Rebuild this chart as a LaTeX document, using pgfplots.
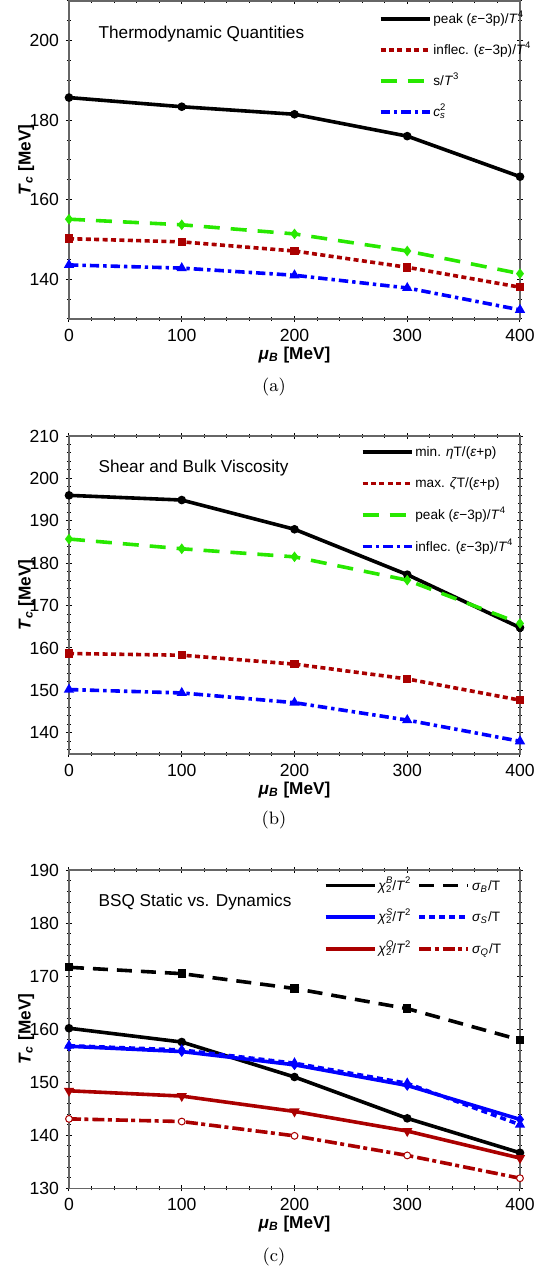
\documentclass[border=0pt]{standalone}
\usepackage{fontspec}
\setsansfont{Liberation Sans}
\usepackage{pgfplots}
\pgfplotsset{compat=1.18}

\definecolor{mred}{RGB}{170,0,0}
\definecolor{mgreen}{RGB}{40,232,0}
\definecolor{mblue}{RGB}{0,0,255}
\definecolor{frame}{gray}{0.4}

\pgfplotsset{
 panel/.style={
  scale only axis, width=225.5pt, height=159pt,
  xmin=0, xmax=400, xtick={0,100,...,400}, minor xtick={0,20,...,400},
  axis line style={frame, line width=0.8pt},
  tick style={black, line width=0.5pt},
  tick align=center, major tick length=3pt, minor tick length=2pt,
  tick label style={font=\sffamily\fontsize{8.8}{10}\selectfont},
  /pgf/number format/assume math mode=true,
  xlabel={\textbf{\textit{μ}\textsubscript{\textit{B}} [MeV]}},
  ylabel={\textbf{\textit{T}\textsubscript{\textit{c}} [MeV]}},
  label style={font=\sffamily\bfseries\fontsize{8.6}{10}\selectfont},
  xlabel style={at={(axis description cs:0.5,-0.113)}, anchor=center},
  ylabel style={at={(axis description cs:-0.095,0.5)}, anchor=center},
  legend style={draw=none, fill=none, inner sep=0pt, outer sep=0pt,
    font=\sffamily\fontsize{6.8}{8}\selectfont, column sep=0pt,
    nodes={inner sep=1pt, text height=6pt, text depth=1.5pt}},
  legend cell align=left,
  legend image code/.code={\draw[#1,mark=none] (0pt,0pt) -- (24.5pt,0pt);},
  every axis plot/.append style={line width=1.8pt, mark size=1.2pt, mark options={solid}},
 },
 ldot/.style={dash pattern=on 2.5pt off 1.7pt},
 ldash/.style={dash pattern=on 8pt off 5.5pt},
 ldashdot/.style={dash pattern=on 4.7pt off 2pt on 1.7pt off 2pt},
}

\begin{document}
\begin{tikzpicture}
\useasboundingbox (0pt,0pt) rectangle (279pt,634pt);

% ---------------- (a)
\begin{axis}[panel, at={(34.5pt,474.5pt)}, anchor=south west,
  ymin=130, ymax=210, ytick={140,160,180,200}, minor ytick={130,135,...,210},
  legend style={at={(axis description cs:0.687,0.973)}, anchor=north west, row sep=6.0pt}]
\addplot[black, mark=*] coordinates {(0,185.7) (100,183.4) (200,181.5) (300,176.0) (400,165.8)};
\addlegendentry{peak (\textit{ε}−3p)/\textit{T}\textsuperscript{4}}
\addplot[mred, ldot, mark=square*] coordinates {(0,150.2) (100,149.4) (200,147.1) (300,143.0) (400,138.0)};
\addlegendentry{inflec. (\textit{ε}−3p)/\textit{T}\textsuperscript{4}}
\addplot[mgreen, ldash, mark=diamond*] coordinates {(0,155.1) (100,153.7) (200,151.4) (300,147.1) (400,141.4)};
\addlegendentry{s/\textit{T}\textsuperscript{3}}
\addplot[mblue, ldashdot, mark=triangle*] coordinates {(0,143.6) (100,142.8) (200,141.0) (300,137.8) (400,132.3)};
\addlegendentry{\textit{c}\rlap{\textsuperscript{2}}\textsubscript{\textit{s}}}
\node[anchor=west, font=\sffamily\fontsize{8.6}{10}\selectfont] at (rel axis cs:0.05,0.896) {Thermodynamic Quantities};
\end{axis}
\node[font=\fontsize{9}{11}\selectfont] at (137pt,440.5pt) {(a)};

% ---------------- (b)
\begin{axis}[panel, at={(34.5pt,257pt)}, anchor=south west,
  ymin=135, ymax=210, ytick={140,150,...,210}, minor ytick={136,138,...,210},
  legend style={at={(axis description cs:0.647,0.980)}, anchor=north west, row sep=6.3pt}]
\addplot[black, mark=*] coordinates {(0,196.0) (100,194.9) (200,188.0) (300,177.3) (400,164.8)};
\addlegendentry{min. \textit{η}T/(\textit{ε}+p)}
\addplot[mred, ldot, mark=square*] coordinates {(0,158.7) (100,158.3) (200,156.2) (300,152.7) (400,147.7)};
\addlegendentry{max. \textit{ζ}T/(\textit{ε}+p)}
\addplot[mgreen, ldash, mark=diamond*] coordinates {(0,185.7) (100,183.4) (200,181.5) (300,176.0) (400,165.8)};
\addlegendentry{peak (\textit{ε}−3p)/\textit{T}\textsuperscript{4}}
\addplot[mblue, ldashdot, mark=triangle*] coordinates {(0,150.2) (100,149.4) (200,147.1) (300,143.0) (400,138.0)};
\addlegendentry{inflec. (\textit{ε}−3p)/\textit{T}\textsuperscript{4}}
\node[anchor=west, font=\sffamily\fontsize{8.6}{10}\selectfont] at (rel axis cs:0.05,0.900) {Shear and Bulk Viscosity};
\end{axis}
\node[font=\fontsize{9}{11}\selectfont] at (137pt,224pt) {(b)};

% ---------------- (c)
\begin{axis}[panel, at={(34.5pt,39.85pt)}, anchor=south west,
  ymin=130, ymax=190, ytick={130,140,...,190}, minor ytick={130,132,...,190},
  legend columns=2,
  legend style={at={(axis description cs:0.565,0.982)}, anchor=north west, row sep=6.3pt,
    /tikz/every odd column/.append style={column sep=0pt},
    /tikz/every even column/.append style={column sep=2pt}}]
\addplot[black, mark=*] coordinates {(0,160.2) (100,157.6) (200,151.0) (300,143.2) (400,136.7)};
\addlegendentry{\textit{χ}\rlap{\textsuperscript{\textit{B}}}\textsubscript{2}/\textit{T}\textsuperscript{2}}
\addplot[black, dash pattern=on 7.5pt off 4.5pt, mark=square*] coordinates {(0,171.7) (100,170.5) (200,167.7) (300,163.9) (400,158.0)};
\addlegendentry{\textit{σ}\textsubscript{\textit{B}}/T}
\addplot[mblue, mark=diamond*] coordinates {(0,156.8) (100,155.8) (200,153.3) (300,149.4) (400,143.0)};
\addlegendentry{\textit{χ}\rlap{\textsuperscript{\textit{S}}}\textsubscript{2}/\textit{T}\textsuperscript{2}}
\addplot[mblue, dash pattern=on 3pt off 2pt, mark=triangle*] coordinates {(0,156.9) (100,156.1) (200,153.6) (300,149.8) (400,142.0)};
\addlegendentry{\textit{σ}\textsubscript{\textit{S}}/T}
\addplot[mred, mark=triangle*, mark options={rotate=180}] coordinates {(0,148.4) (100,147.4) (200,144.5) (300,140.8) (400,135.7)};
\addlegendentry{\textit{χ}\rlap{\textsuperscript{\textit{Q}}}\textsubscript{2}/\textit{T}\textsuperscript{2}}
\addplot[mred, dash pattern=on 6pt off 1.7pt on 2pt off 2pt, mark=*, mark size=1.7pt, mark options={fill=white, line width=0.5pt, solid}] coordinates {(0,143.1) (100,142.6) (200,139.9) (300,136.2) (400,131.9)};
\addlegendentry{\textit{σ}\textsubscript{\textit{Q}}/T}
\node[anchor=west, font=\sffamily\fontsize{8.6}{10}\selectfont] at (rel axis cs:0.05,0.899) {BSQ Static vs. Dynamics};
\end{axis}
\node[font=\fontsize{9}{11}\selectfont] at (137pt,5.5pt) {(c)};
\end{tikzpicture}
\end{document}
